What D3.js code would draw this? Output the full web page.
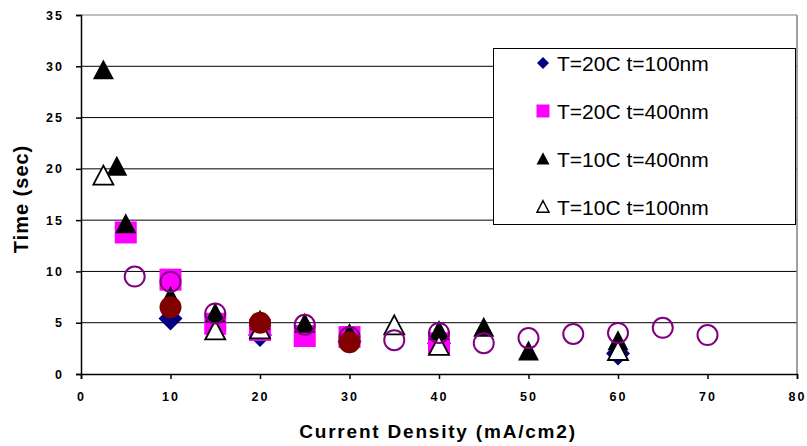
<!DOCTYPE html>
<html>
<head>
<meta charset="utf-8">
<script src="https://cdn.jsdelivr.net/npm/d3@7"></script>
<style>
  body { margin: 0; background: #fff; }
  text { font-family: Arial, "Liberation Sans", sans-serif; }
</style>
</head>
<body>
<script>
//series data
var diamond20c100 = [[10, 5.4], [20, 3.8], [30, 3.2], [40, 3.0], [60, 2.0]];
var square20c400 = [[5, 13.8], [10, 9.2], [15, 4.9], [20, 4.3], [25, 3.7], [30, 3.6], [40, 3.0]];
var tri10c400 = [[2.5, 29.6], [4, 20.2], [5, 14.6], [10, 7.5], [15, 5.9], [20, 5.2], [25, 4.9], [30, 3.9], [40, 4.2], [45, 4.5], [50, 2.2], [60, 3.2]];
var openTri10c100 = [[2.5, 19.3], [15, 4.2], [20, 4.3], [35, 4.7], [40, 2.7], [60, 2.2]];
var openCircle = [[6, 9.5], [10, 9.0], [15, 5.9], [25, 4.8], [30, 3.6], [35, 3.3], [40, 4.0], [45, 3.0], [50, 3.5], [55, 3.9], [60, 4.0], [65, 4.5], [70, 3.8]];
var redCircle = [[10, 6.5], [20, 5.0], [30, 3.1]];

var xTicks = [0, 10, 20, 30, 40, 50, 60, 70, 80];
var yTicks = [0, 5, 10, 15, 20, 25, 30, 35];
var legendLabels = ["T=20C t=100nm", "T=20C t=400nm", "T=10C t=400nm", "T=10C t=100nm"];

var width = 807, height = 446;
var plotLeft = 81, plotRight = 797, plotTop = 15, plotBottom = 374;

var svg = d3.select("body").append("svg")
    .attr("width", width)
    .attr("height", height);

var x = d3.scaleLinear().domain([0, 80]).range([plotLeft, plotRight]);
var y = d3.scaleLinear().domain([0, 35]).range([plotBottom, plotTop]);

//gridlines
svg.selectAll(".grid")
    .data(yTicks.filter(function(d){ return d > 0; }))
    .enter().append("line")
    .attr("x1", plotLeft).attr("x2", plotRight)
    .attr("y1", function(d){ return y(d); })
    .attr("y2", function(d){ return y(d); })
    .attr("stroke", function(d){ return d == 35 ? "#808080" : "#000"; })
    .attr("stroke-width", 1);

//right border
svg.append("line")
    .attr("x1", plotRight).attr("x2", plotRight)
    .attr("y1", plotTop).attr("y2", plotBottom)
    .attr("stroke", "#808080").attr("stroke-width", 1.5);

//axes
var xAxis = svg.append("g")
    .attr("transform", "translate(0," + plotBottom + ")")
    .call(d3.axisBottom(x).tickValues(xTicks).tickSize(5).tickPadding(13));
var yAxis = svg.append("g")
    .attr("transform", "translate(" + plotLeft + ",0)")
    .call(d3.axisLeft(y).tickValues(yTicks).tickSize(5).tickPadding(12));

[xAxis, yAxis].forEach(function(ax){
    ax.select(".domain").attr("stroke", "#000").attr("stroke-width", 1.5);
    ax.selectAll(".tick line").attr("stroke", "#000").attr("stroke-width", 1.5);
    ax.selectAll(".tick text")
        .attr("fill", "#000")
        .style("font-size", "12.5px")
        .style("font-weight", "bold")
        .style("letter-spacing", "2px")
        .style("font-family", "Arial, 'Liberation Sans', sans-serif");
});

//axis titles
svg.append("text")
    .attr("x", 438)
    .attr("y", 438)
    .attr("text-anchor", "middle")
    .style("font-size", "19px")
    .style("font-weight", "bold")
    .style("letter-spacing", "1.8px")
    .text("Current Density (mA/cm2)");

svg.append("text")
    .attr("transform", "translate(28,199) rotate(-90)")
    .attr("text-anchor", "middle")
    .style("font-size", "20px")
    .style("font-weight", "bold")
    .style("letter-spacing", "1px")
    .text("Time (sec)");

//marker shapes
function triPath(s){
    var h = s * 0.95;
    return "M0," + (-h * 0.55) + "L" + (s / 2) + "," + (h * 0.45) + "L" + (-s / 2) + "," + (h * 0.45) + "Z";
}
function diamondPath(s){
    var r = s / 2;
    return "M0," + (-r) + "L" + r + ",0L0," + r + "L" + (-r) + ",0Z";
}

function drawSeries(data, cls, draw){
    var g = svg.append("g").attr("class", cls);
    g.selectAll("." + cls)
        .data(data)
        .enter()
        .append("g")
        .attr("transform", function(d){ return "translate(" + x(d[0]) + "," + y(d[1]) + ")"; })
        .each(function(){ draw(d3.select(this)); });
}

drawSeries(diamond20c100, "diamond", function(s){
    s.append("path").attr("d", diamondPath(24)).attr("fill", "#000080");
});
drawSeries(square20c400, "square", function(s){
    s.append("rect").attr("x", -11).attr("y", -11).attr("width", 22).attr("height", 22).attr("fill", "#ff00ff");
});
drawSeries(tri10c400, "blacktri", function(s){
    s.append("path").attr("d", triPath(21)).attr("fill", "#000");
});
drawSeries(openTri10c100, "opentri", function(s){
    s.append("path").attr("d", triPath(20)).attr("fill", "#fff").attr("stroke", "#000").attr("stroke-width", 1.8);
});
drawSeries(openCircle, "opencircle", function(s){
    s.append("circle").attr("r", 10).attr("fill", "none").attr("stroke", "#800080").attr("stroke-width", 2);
});
drawSeries(redCircle, "redcircle", function(s){
    s.append("circle").attr("r", 11).attr("fill", "#800000");
});

//legend
var legend = svg.append("g");
legend.append("rect")
    .attr("x", 493.5).attr("y", 48.5)
    .attr("width", 302).attr("height", 176)
    .attr("fill", "#fff").attr("stroke", "#000").attr("stroke-width", 1);

var legendY = [63, 111, 159, 207];
var legendDraw = [
    function(s){ s.append("path").attr("d", diamondPath(12)).attr("fill", "#000080"); },
    function(s){ s.append("rect").attr("x", -6.5).attr("y", -6.5).attr("width", 13).attr("height", 13).attr("fill", "#ff00ff"); },
    function(s){ s.append("path").attr("d", triPath(13)).attr("fill", "#000"); },
    function(s){ s.append("path").attr("d", triPath(12)).attr("fill", "#fff").attr("stroke", "#000").attr("stroke-width", 1.5); }
];
legendLabels.forEach(function(lbl, i){
    var g = legend.append("g").attr("transform", "translate(543," + legendY[i] + ")");
    legendDraw[i](g);
    g.append("text")
        .attr("x", 14).attr("y", 7.5)
        .style("font-size", "21px")
        .text(lbl);
});
</script>
</body>
</html>
